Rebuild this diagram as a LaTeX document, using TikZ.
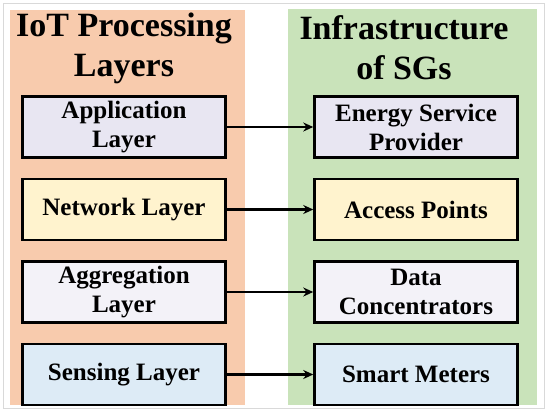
\documentclass[tikz,border=0pt]{standalone}
\usepackage{fontspec}
\setmainfont{Liberation Serif}
\usetikzlibrary{arrows.meta,positioning}
\definecolor{panelorange}{HTML}{F8CBAD}
\definecolor{panelgreen}{HTML}{C9E3BA}
\definecolor{appfill}{HTML}{E8E6F2}
\definecolor{netfill}{HTML}{FFF3CE}
\definecolor{aggfill}{HTML}{F3F2F8}
\definecolor{senfill}{HTML}{DDEBF6}
\tikzset{
    layerbox/.style={draw=black,line width=2.5pt,minimum width=203pt,minimum height=61pt,
        align=center,font=\bfseries\fontsize{25}{29}\selectfont,inner sep=0pt},
    paneltitle/.style={align=center,font=\bfseries\fontsize{34}{40}\selectfont,inner sep=0pt},
    maparrow/.style={line width=2.5pt,-{Stealth[length=10pt,width=9pt]}}
}
\begin{document}
\begin{tikzpicture}[x=1pt,y=-1pt]
        %% Frame and panels
        \useasboundingbox (0,0) rectangle (547,413);
        \draw[black!15,line width=1pt] (3,3) rectangle (544,408);
        \fill[panelorange] (10,10) rectangle (245,405);
        \fill[panelgreen] (288,9) rectangle (537,405);
        %% Titles
        \node[paneltitle] (lefttitle) at (124,48) {IoT Processing\\Layers};
        \node[paneltitle] (righttitle) at (404,48) {Infrastructure\\of SGs};
        %% Processing layers
        \node[layerbox,fill=appfill] (app) at (124,127) {Application\\Layer};
        \node[layerbox,fill=netfill,below=19pt of app] (net) {Network Layer};
        \node[layerbox,fill=aggfill,below=19pt of net] (agg) {Aggregation\\Layer};
        \node[layerbox,fill=senfill,below=19pt of agg] (sen) {Sensing Layer};
        %% Smart grid infrastructure
        \node[layerbox,fill=appfill] (esp) at (416,127) {Energy Service\\Provider};
        \node[layerbox,fill=netfill,below=19pt of esp] (ap) {Access Points};
        \node[layerbox,fill=aggfill,below=19pt of ap] (dc) {Data\\Concentrators};
        \node[layerbox,fill=senfill,below=19pt of dc] (sm) {Smart Meters};
        %% Mappings
        \draw[maparrow] (app) -- (esp);
        \draw[maparrow] (net) -- (ap);
        \draw[maparrow] (agg) -- (dc);
        \draw[maparrow] (sen) -- (sm);
    \end{tikzpicture}
\end{document}
